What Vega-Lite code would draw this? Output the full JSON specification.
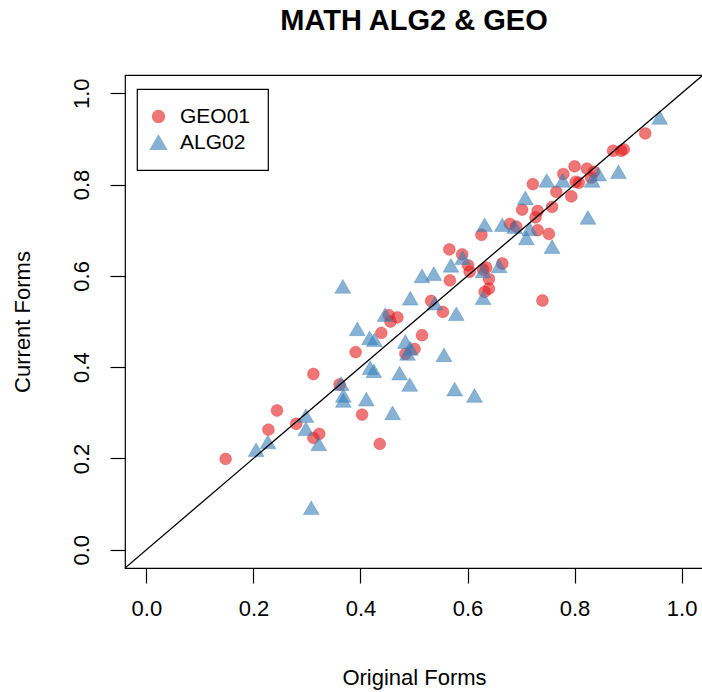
{
  "$schema": "https://vega.github.io/schema/vega-lite/v6.json",
  "autosize": "none",
  "padding": {"left": 125, "top": 75, "right": 0, "bottom": 124},
  "width": 578,
  "height": 493,
  "background": "white",
  "title": {"text": "MATH ALG2 & GEO", "font": "Liberation Sans", "fontSize": 29, "fontWeight": "bold", "color": "black", "anchor": "middle", "frame": "group", "baseline": "alphabetic", "offset": 16},
  "config": {
    "view": {"stroke": "black", "strokeWidth": 1.2},
    "axis": {"domain": false, "grid": false, "tickColor": "black", "tickWidth": 1.2, "tickSize": 15, "labelFont": "Liberation Sans", "labelFontSize": 22, "labelColor": "black", "titleFont": "Liberation Sans", "titleFontSize": 22, "titleFontWeight": "normal", "titleColor": "black", "labelFlush": false, "labelOverlap": false},
    "legend": {"orient": "none", "legendX": 12, "legendY": 14, "strokeColor": "black", "strokeWidth": 1.2, "padding": 17, "labelFont": "Liberation Sans", "labelFontSize": 21, "labelColor": "black", "labelOffset": 11, "symbolOffset": -6, "rowPadding": 4, "symbolOpacity": 0.6, "fillColor": "white"}
  },
  "layer": [
    {
      "data": {"values": [
        {"x": 0.148, "y": 0.199, "form": "GEO01"},
        {"x": 0.228, "y": 0.263, "form": "GEO01"},
        {"x": 0.244, "y": 0.305, "form": "GEO01"},
        {"x": 0.280, "y": 0.276, "form": "GEO01"},
        {"x": 0.312, "y": 0.245, "form": "GEO01"},
        {"x": 0.323, "y": 0.254, "form": "GEO01"},
        {"x": 0.312, "y": 0.385, "form": "GEO01"},
        {"x": 0.361, "y": 0.362, "form": "GEO01"},
        {"x": 0.391, "y": 0.433, "form": "GEO01"},
        {"x": 0.403, "y": 0.296, "form": "GEO01"},
        {"x": 0.436, "y": 0.232, "form": "GEO01"},
        {"x": 0.439, "y": 0.475, "form": "GEO01"},
        {"x": 0.453, "y": 0.514, "form": "GEO01"},
        {"x": 0.456, "y": 0.500, "form": "GEO01"},
        {"x": 0.469, "y": 0.509, "form": "GEO01"},
        {"x": 0.484, "y": 0.429, "form": "GEO01"},
        {"x": 0.501, "y": 0.440, "form": "GEO01"},
        {"x": 0.515, "y": 0.470, "form": "GEO01"},
        {"x": 0.532, "y": 0.545, "form": "GEO01"},
        {"x": 0.554, "y": 0.521, "form": "GEO01"},
        {"x": 0.567, "y": 0.590, "form": "GEO01"},
        {"x": 0.566, "y": 0.658, "form": "GEO01"},
        {"x": 0.590, "y": 0.647, "form": "GEO01"},
        {"x": 0.601, "y": 0.623, "form": "GEO01"},
        {"x": 0.604, "y": 0.609, "form": "GEO01"},
        {"x": 0.626, "y": 0.690, "form": "GEO01"},
        {"x": 0.629, "y": 0.614, "form": "GEO01"},
        {"x": 0.635, "y": 0.618, "form": "GEO01"},
        {"x": 0.632, "y": 0.565, "form": "GEO01"},
        {"x": 0.640, "y": 0.572, "form": "GEO01"},
        {"x": 0.640, "y": 0.593, "form": "GEO01"},
        {"x": 0.665, "y": 0.627, "form": "GEO01"},
        {"x": 0.679, "y": 0.714, "form": "GEO01"},
        {"x": 0.691, "y": 0.708, "form": "GEO01"},
        {"x": 0.702, "y": 0.745, "form": "GEO01"},
        {"x": 0.722, "y": 0.801, "form": "GEO01"},
        {"x": 0.727, "y": 0.728, "form": "GEO01"},
        {"x": 0.731, "y": 0.742, "form": "GEO01"},
        {"x": 0.731, "y": 0.700, "form": "GEO01"},
        {"x": 0.740, "y": 0.546, "form": "GEO01"},
        {"x": 0.752, "y": 0.692, "form": "GEO01"},
        {"x": 0.758, "y": 0.751, "form": "GEO01"},
        {"x": 0.766, "y": 0.784, "form": "GEO01"},
        {"x": 0.779, "y": 0.823, "form": "GEO01"},
        {"x": 0.794, "y": 0.774, "form": "GEO01"},
        {"x": 0.800, "y": 0.840, "form": "GEO01"},
        {"x": 0.802, "y": 0.806, "form": "GEO01"},
        {"x": 0.808, "y": 0.804, "form": "GEO01"},
        {"x": 0.823, "y": 0.835, "form": "GEO01"},
        {"x": 0.831, "y": 0.815, "form": "GEO01"},
        {"x": 0.836, "y": 0.828, "form": "GEO01"},
        {"x": 0.872, "y": 0.874, "form": "GEO01"},
        {"x": 0.887, "y": 0.874, "form": "GEO01"},
        {"x": 0.892, "y": 0.877, "form": "GEO01"},
        {"x": 0.932, "y": 0.912, "form": "GEO01"},
        {"x": 0.205, "y": 0.219, "form": "ALG02"},
        {"x": 0.227, "y": 0.236, "form": "ALG02"},
        {"x": 0.298, "y": 0.294, "form": "ALG02"},
        {"x": 0.298, "y": 0.265, "form": "ALG02"},
        {"x": 0.322, "y": 0.232, "form": "ALG02"},
        {"x": 0.308, "y": 0.092, "form": "ALG02"},
        {"x": 0.364, "y": 0.364, "form": "ALG02"},
        {"x": 0.368, "y": 0.338, "form": "ALG02"},
        {"x": 0.368, "y": 0.327, "form": "ALG02"},
        {"x": 0.367, "y": 0.577, "form": "ALG02"},
        {"x": 0.394, "y": 0.484, "form": "ALG02"},
        {"x": 0.411, "y": 0.330, "form": "ALG02"},
        {"x": 0.417, "y": 0.464, "form": "ALG02"},
        {"x": 0.426, "y": 0.460, "form": "ALG02"},
        {"x": 0.418, "y": 0.399, "form": "ALG02"},
        {"x": 0.425, "y": 0.392, "form": "ALG02"},
        {"x": 0.446, "y": 0.515, "form": "ALG02"},
        {"x": 0.460, "y": 0.300, "form": "ALG02"},
        {"x": 0.473, "y": 0.387, "form": "ALG02"},
        {"x": 0.484, "y": 0.456, "form": "ALG02"},
        {"x": 0.493, "y": 0.441, "form": "ALG02"},
        {"x": 0.488, "y": 0.430, "form": "ALG02"},
        {"x": 0.492, "y": 0.362, "form": "ALG02"},
        {"x": 0.493, "y": 0.551, "form": "ALG02"},
        {"x": 0.515, "y": 0.600, "form": "ALG02"},
        {"x": 0.537, "y": 0.605, "form": "ALG02"},
        {"x": 0.539, "y": 0.540, "form": "ALG02"},
        {"x": 0.556, "y": 0.427, "form": "ALG02"},
        {"x": 0.569, "y": 0.623, "form": "ALG02"},
        {"x": 0.591, "y": 0.640, "form": "ALG02"},
        {"x": 0.576, "y": 0.352, "form": "ALG02"},
        {"x": 0.579, "y": 0.517, "form": "ALG02"},
        {"x": 0.613, "y": 0.338, "form": "ALG02"},
        {"x": 0.629, "y": 0.611, "form": "ALG02"},
        {"x": 0.629, "y": 0.552, "form": "ALG02"},
        {"x": 0.659, "y": 0.622, "form": "ALG02"},
        {"x": 0.632, "y": 0.712, "form": "ALG02"},
        {"x": 0.665, "y": 0.712, "form": "ALG02"},
        {"x": 0.688, "y": 0.708, "form": "ALG02"},
        {"x": 0.716, "y": 0.703, "form": "ALG02"},
        {"x": 0.710, "y": 0.683, "form": "ALG02"},
        {"x": 0.708, "y": 0.771, "form": "ALG02"},
        {"x": 0.758, "y": 0.664, "form": "ALG02"},
        {"x": 0.748, "y": 0.809, "form": "ALG02"},
        {"x": 0.778, "y": 0.809, "form": "ALG02"},
        {"x": 0.833, "y": 0.809, "form": "ALG02"},
        {"x": 0.845, "y": 0.823, "form": "ALG02"},
        {"x": 0.882, "y": 0.828, "form": "ALG02"},
        {"x": 0.825, "y": 0.728, "form": "ALG02"},
        {"x": 0.959, "y": 0.947, "form": "ALG02"}
      ]},
      "mark": {"type": "point", "filled": true, "fillOpacity": 0.6, "strokeOpacity": 0.35, "strokeWidth": 1, "clip": true},
      "encoding": {
        "x": {"field": "x", "type": "quantitative", "scale": {"domain": [-0.04, 1.04], "nice": false, "zero": false},
              "axis": {"values": [0, 0.2, 0.4, 0.6, 0.8, 1.0], "format": ".1f", "labelPadding": 15, "labelBaseline": "top", "title": "Original Forms", "titleY": 109, "titleBaseline": "middle"}},
        "y": {"field": "y", "type": "quantitative", "scale": {"domain": [-0.04, 1.04], "nice": false, "zero": false},
              "axis": {"values": [0, 0.2, 0.4, 0.6, 0.8, 1.0], "format": ".1f", "labelAngle": 270, "labelAlign": "center", "labelBaseline": "alphabetic", "labelPadding": 22, "title": "Current Forms", "titleX": -103, "titleAngle": 270, "titleBaseline": "middle", "titleAlign": "center"}},
        "color": {"field": "form", "type": "nominal", "title": null, "scale": {"domain": ["GEO01", "ALG02"], "range": ["#E41A1C", "#377EB8"]}},
        "stroke": {"field": "form", "type": "nominal", "title": null, "scale": {"domain": ["GEO01", "ALG02"], "range": ["#E41A1C", "#377EB8"]}},
        "shape": {"field": "form", "type": "nominal", "title": null, "scale": {"domain": ["GEO01", "ALG02"], "range": ["circle", "triangle-up"]}},
        "size": {"field": "form", "type": "nominal", "title": null, "scale": {"domain": ["GEO01", "ALG02"], "range": [140, 250]}}
      }
    },
    {
      "data": {"values": [{"x": -0.04, "y": -0.04}, {"x": 1.04, "y": 1.04}]},
      "mark": {"type": "line", "color": "black", "strokeWidth": 1.3, "clip": true},
      "encoding": {
        "x": {"field": "x", "type": "quantitative"},
        "y": {"field": "y", "type": "quantitative"}
      }
    }
  ]
}
